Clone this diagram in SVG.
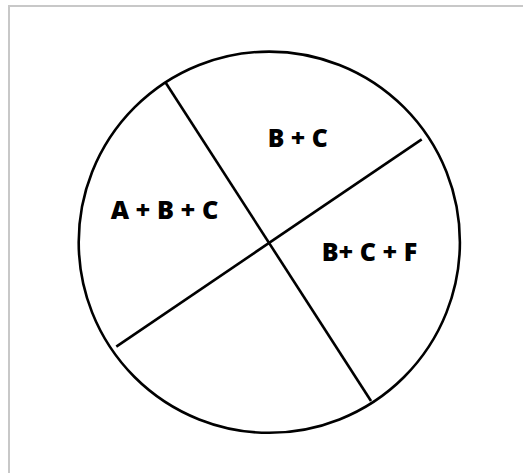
<svg xmlns="http://www.w3.org/2000/svg" width="523" height="473" viewBox="0 0 523 473">
<style>
.lbl{font-family:"Open Sans","Liberation Sans",sans-serif;font-weight:800;font-size:25px;fill:#000}
.ln{stroke:#000;stroke-width:2.6;fill:none}
</style>
<rect width="523" height="473" fill="#fff"/>
<rect x="9" y="6" width="530" height="480" fill="none" stroke="#c8c8c8" stroke-width="2"/>
<g id="circle"><circle class="ln" cx="269.3" cy="242.2" r="190.6" stroke-width="2.8"/></g>
<g id="connectors">
<line class="ln" x1="165.7" y1="82.7" x2="371" y2="401"/>
<line class="ln" x1="421.7" y1="139.3" x2="116.3" y2="346.7"/>
</g>
<g id="n1"><text class="lbl" x="110.7" y="219" textLength="107.6" lengthAdjust="spacingAndGlyphs">A + B + C</text></g>
<g id="n2"><text class="lbl" x="267.7" y="147" textLength="60" lengthAdjust="spacingAndGlyphs">B + C</text></g>
<g id="n3"><text class="lbl" x="321.7" y="261.3" textLength="95.6" lengthAdjust="spacingAndGlyphs">B+ C + F</text></g>
</svg>
